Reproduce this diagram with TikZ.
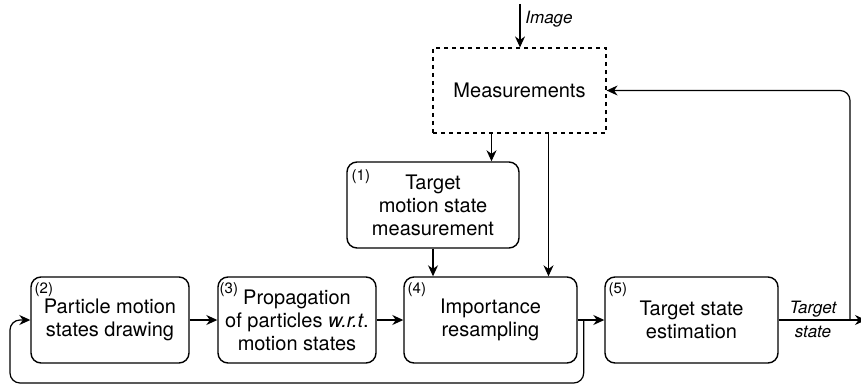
\documentclass[tikz,border=0pt]{standalone}
\usepackage{fontspec}
\setmainfont{TeX Gyre Heros}
\usetikzlibrary{arrows.meta}

\begin{document}
\begin{tikzpicture}[x=0.5pt, y=-0.5pt, >={Stealth[length=5.5pt,width=5pt]},
    box/.style={draw, rounded corners=5pt, line width=0.7pt, align=center,
        font=\fontsize{10}{11.5}\selectfont, minimum height=43pt, inner sep=0pt},
    num/.style={anchor=north west, inner sep=0pt, font=\fontsize{7.5}{9}\selectfont},
    lbl/.style={inner sep=0pt, font=\fontsize{8.5}{10}\selectfont\itshape},
    conn/.style={line width=0.6pt}]
    \useasboundingbox (0,0) rectangle (861,385);

    % 1. Hộp đo đạc (nét đứt)
    \node[box, rounded corners=0pt, line width=0.6pt, dash pattern=on 2pt off 2pt,
        minimum width=86.5pt, minimum height=42.5pt] (meas) at (519.5,90.5) {Measurements};

    % 2. Các khối xử lý
    \node[box, minimum width=86pt] (b1) at (433,205) {Target\\motion state\\measurement};
    \node[box, minimum width=79pt] (b2) at (110,320) {Particle motion\\states drawing};
    \node[box, minimum width=79pt] (b3) at (297,320) {Propagation\\of particles \textit{w.r.t}.\\motion states};
    \node[box, minimum width=86.5pt] (b4) at (490.5,320) {Importance\\resampling};
    \node[box, minimum width=86.5pt] (b5) at (691.5,320) {Target state\\estimation};

    % 3. Số thứ tự các khối
    \node[num] at ([xshift=2.5pt,yshift=-4pt]b1.north west) {(1)};
    \node[num] at ([xshift=2pt,yshift=-3pt]b2.north west) {(2)};
    \node[num] at ([xshift=1pt,yshift=-3pt]b3.north west) {(3)};
    \node[num] at ([xshift=2pt,yshift=-3pt]b4.north west) {(4)};
    \node[num] at ([xshift=2pt,yshift=-3pt]b5.north west) {(5)};

    % 4. Đầu vào, đầu ra
    \coordinate (img) at (520,4);
    \coordinate (out) at (866,320);
    \coordinate (fb) at (850,320);
    \coordinate (loopL) at (10,383);
    \node[lbl, anchor=west] (imglbl) at (525,19) {Image};
    \node[lbl] (tgt) at (813,309) {Target};
    \node[lbl] (st) at (813,332) {state};

    % 5. Các mũi tên
    \draw[conn, ->] (img) -- (img |- meas.north);
    \draw[conn, ->] ([xshift=-14pt]meas.south) -- ([xshift=-14pt]meas.south |- b1.north);
    \draw[conn, ->] ([xshift=14.5pt]meas.south) -- ([xshift=14.5pt]meas.south |- b4.north);
    \draw[conn, ->] (b1.south) -- (b1.south |- b4.north);
    \draw[conn, ->] (b2.east) -- (b3.west);
    \draw[conn, ->] (b3.east) -- (b4.west);
    \draw[conn, ->] (b4.east) -- (b5.west);
    \draw[conn, ->] (b5.east) -- (out);
    \draw[conn, ->, rounded corners=5pt] ([xshift=3pt]b4.east) |- (loopL) |- (b2.west);
    \draw[conn, ->, rounded corners=5pt] (fb) |- (meas.east);
\end{tikzpicture}
\end{document}
